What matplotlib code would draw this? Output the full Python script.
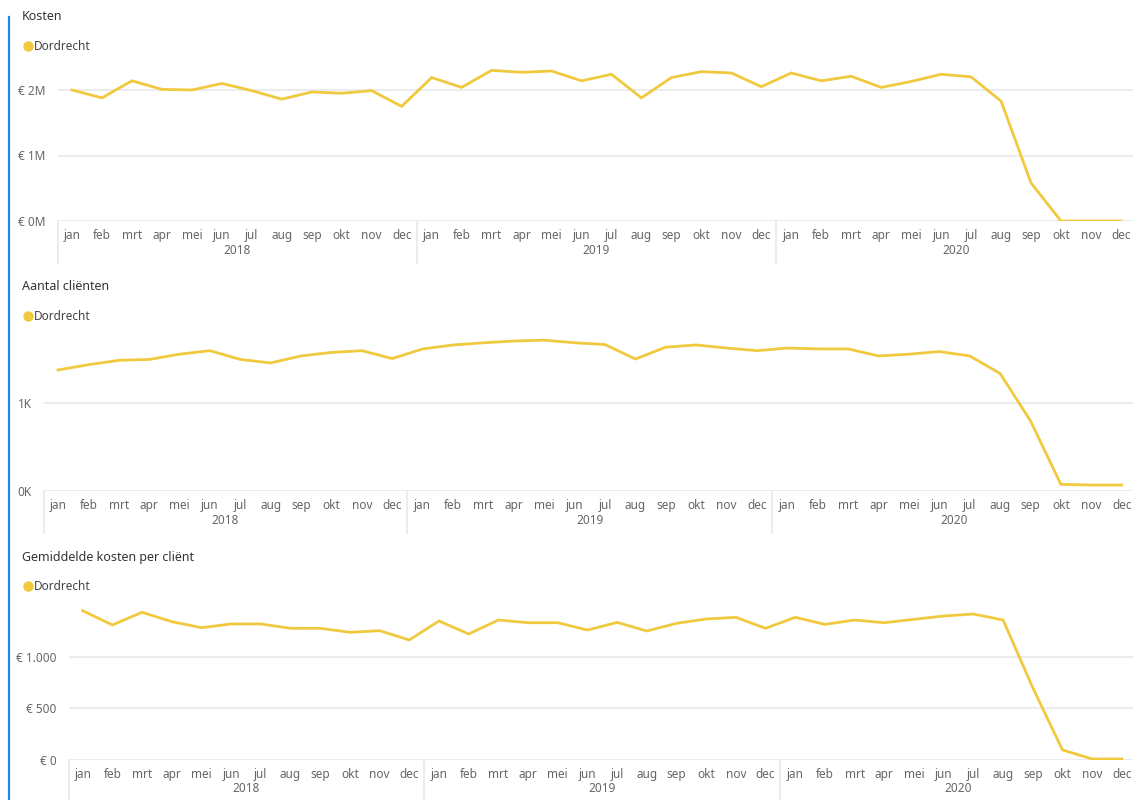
import matplotlib
matplotlib.use("Agg")
import matplotlib.pyplot as plt
from matplotlib.lines import Line2D
import matplotlib.transforms as mtransforms

plt.rcParams['font.family'] = ['Noto Sans', 'DejaVu Sans']

months = ["jan", "feb", "mrt", "apr", "mei", "jun", "jul", "aug", "sep", "okt", "nov", "dec"]
years = ["2018", "2019", "2020"]
series_name = "Dordrecht"

# Kosten (in miljoen euro)
kosten = [2.00, 1.88, 2.14, 2.01, 2.00, 2.10, 1.99, 1.86, 1.97, 1.95, 1.99, 1.75,
          2.19, 2.04, 2.30, 2.27, 2.29, 2.14, 2.24, 1.88, 2.19, 2.28, 2.26, 2.05,
          2.26, 2.14, 2.21, 2.04, 2.13, 2.24, 2.20, 1.83, 0.58, 0.00, 0.00, 0.00]
# Aantal cliënten (in duizend)
clienten = [1.38, 1.44, 1.49, 1.50, 1.56, 1.60, 1.50, 1.46, 1.54, 1.58, 1.60, 1.51,
            1.62, 1.665, 1.69, 1.71, 1.72, 1.69, 1.67, 1.505, 1.64, 1.665, 1.63, 1.60,
            1.63, 1.62, 1.62, 1.54, 1.56, 1.59, 1.54, 1.34, 0.80, 0.076, 0.068, 0.068]
# Gemiddelde kosten per cliënt (euro)
gem_kosten = [1445, 1307, 1430, 1339, 1281, 1317, 1317, 1275, 1275, 1236, 1252, 1162,
              1346, 1220, 1355, 1329, 1329, 1258, 1332, 1249, 1323, 1365, 1381, 1275,
              1381, 1313, 1355, 1329, 1362, 1394, 1413, 1355, 700, 97, 10, 10]

titles = ["Kosten", "Aantal cliënten", "Gemiddelde kosten per cliënt"]
yticks_list = [[0, 1, 2], [0, 1], [0, 500, 1000]]
ylabels_list = [["€ 0M", "€ 1M", "€ 2M"], ["0K", "1K"], ["€ 0", "€ 500", "€ 1.000"]]
data_list = [kosten, clienten, gem_kosten]

W, H = 1135, 800
fig = plt.figure(figsize=(W / 100, H / 100), dpi=100)
fig.patch.set_facecolor("white")

LINE_COLOR = "#F0C93F"
GRID_COLOR = "#EBEBEB"
TICK_COLOR = "#666666"
TITLE_COLOR = "#333333"

# layout in pixels: (left, right, plot_top, bottom, first_x_px, spacing_px, px_per_unit, title_y, legend_y)
layouts = [
    (58, 1133, 60, 221, 72.0, 29.97, 65.5, 17, 46),
    (44, 1133, 330, 491, 58.0, 30.39, 87.7, 287, 316),
    (69, 1133, 595, 760, 82.7, 29.69, 0.1033, 557, 586),
]

def fx(px):
    return px / W

def fy(py):
    return 1 - py / H

# left blue border
fig.add_artist(Line2D([fx(8.5), fx(8.5)], [fy(17), fy(800)], color="#1A8CE8", lw=1.6))

n = len(kosten)
xs = list(range(n))
for data, title, yt, yl, lay in zip(data_list, titles, yticks_list, ylabels_list, layouts):
    left, right, top, bottom, x0, sp, ppu, ty, ly = lay
    ax = fig.add_axes([fx(left), fy(bottom), (right - left) / W, (bottom - top) / H])
    hpx = bottom - top
    ax.set_xlim((left - x0) / sp, (right - x0) / sp)
    ax.set_ylim(0, hpx / ppu)
    for t in yt:
        ax.axhline(t, color=GRID_COLOR, lw=1.3, zorder=1)
    ax.plot(xs, data, color=LINE_COLOR, lw=2.0, zorder=3, solid_joinstyle="miter")
    for s in ax.spines.values():
        s.set_visible(False)
    ax.set_yticks(yt)
    ax.set_yticklabels(yl, fontsize=8.5, color=TICK_COLOR)
    ax.tick_params(axis="y", length=0, pad=9)
    ax.set_xticks(xs)
    ax.set_xticklabels(months * len(years), fontsize=8.5, color=TICK_COLOR)
    ax.tick_params(axis="x", length=0, pad=6)
    trans = mtransforms.blended_transform_factory(ax.transData, ax.transAxes)
    # year separators
    for k in range(len(years)):
        xb = k * 12 - 0.5 if k > 0 else (left - x0) / sp
        ax.add_line(Line2D([xb, xb], [0, -42 / hpx], transform=trans, color=GRID_COLOR,
                           lw=1.3, clip_on=False))
    for k, yr in enumerate(years):
        ax.text(k * 12 + 5.5, -29 / hpx, yr, transform=trans, ha="center", va="center",
                fontsize=8.5, color=TICK_COLOR)
    # title & legend
    fig.text(fx(22), fy(ty), title, ha="left", va="center", fontsize=9, color=TITLE_COLOR)
    fig.add_artist(Line2D([fx(28)], [fy(ly)], marker="o", markersize=7.5, color=LINE_COLOR,
                          markeredgewidth=0, linestyle="none"))
    fig.text(fx(34), fy(ly), series_name, ha="left", va="center", fontsize=8.5, color="#444444")

fig.savefig("out.png", dpi=100, facecolor="white")
